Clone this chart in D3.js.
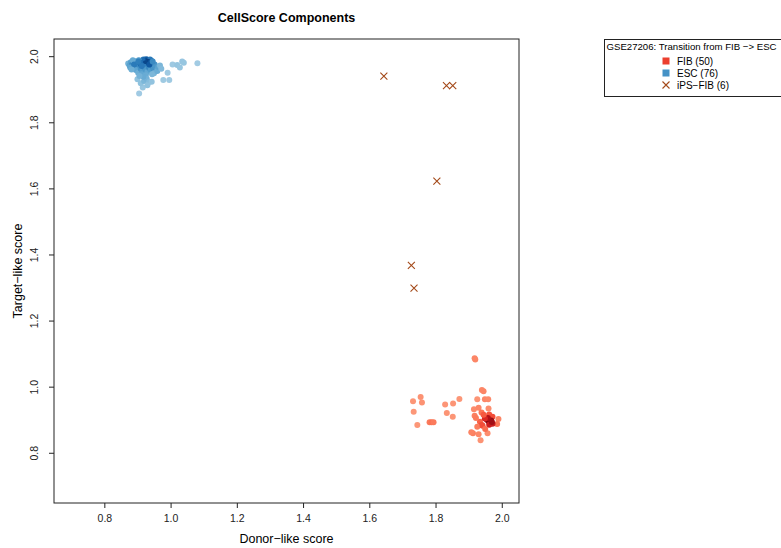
<!DOCTYPE html>
<html>
<head>
<meta charset="utf-8">
<script src="https://cdn.jsdelivr.net/npm/d3@7"></script>
<style>
  body { margin: 0; background: #fff; }
  svg text { font-family: "Liberation Sans", Arial, Helvetica, sans-serif; }
</style>
</head>
<body>
<div class="chart"></div>
<script>
//----Data----
const escX = [0.918,0.922,0.926,0.930,0.934,0.938,0.942,0.928,0.935,0.920,0.915,0.932,0.940,0.925,
  0.872,0.876,0.880,0.884,0.888,0.892,0.896,0.900,0.904,0.908,0.886,0.898,0.910,0.878,
  0.895,0.902,0.910,0.915,0.920,0.925,0.930,0.935,0.940,0.945,0.948,0.952,0.956,0.960,0.950,0.944,0.912,0.925,
  0.900,0.905,0.916,0.910,0.920,0.928,0.935,0.943,0.918,0.930,0.906,
  0.960,0.963,0.978,0.996,0.991,1.006,1.020,1.028,1.035,1.040,1.081,0.968,0.972,
  0.890,0.903,0.913,0.936,0.946,0.882]
const escY = [1.990,1.988,1.991,1.989,1.987,1.990,1.986,1.984,1.982,1.983,1.986,1.978,1.980,1.979,
  1.978,1.972,1.982,1.975,1.968,1.985,1.978,1.972,1.988,1.980,1.988,1.965,1.975,1.966,
  1.958,1.950,1.962,1.955,1.968,1.960,1.952,1.965,1.958,1.970,1.962,1.975,1.968,1.960,1.948,1.945,1.945,1.942,
  1.930,1.887,1.905,1.918,1.925,1.932,1.922,1.923,1.938,1.912,1.940,
  1.955,1.967,1.928,1.928,1.950,1.975,1.973,1.966,1.984,1.980,1.979,1.972,1.962,
  1.975,1.983,1.970,1.975,1.984,1.960]

const fibX = [1.918,1.920,1.940,1.945,1.949,1.959,1.926,
  1.732,1.755,1.759,1.734,1.745,1.782,1.788,1.794,
  1.829,1.853,1.872,1.834,1.852,1.916,1.930,1.960,1.918,1.939,1.962,1.972,1.990,1.986,
  1.955,1.960,1.965,1.968,1.972,1.962,1.958,1.970,
  1.934,1.940,1.949,1.926,1.942,1.913,1.930,1.957,1.936,
  1.908,1.922,1.945,1.950]
const fibY = [1.086,1.082,0.990,0.986,0.962,0.962,0.962,
  0.956,0.969,0.952,0.924,0.884,0.892,0.892,0.892,
  0.946,0.949,0.963,0.920,0.909,0.932,0.936,0.934,0.912,0.922,0.916,0.909,0.902,0.887,
  0.900,0.895,0.890,0.898,0.888,0.885,0.905,0.893,
  0.894,0.884,0.904,0.879,0.882,0.859,0.856,0.859,0.838,
  0.862,0.905,0.915,0.872]

const ipsX = [1.644,1.833,1.852,1.804,1.727,1.735]
const ipsY = [1.940,1.911,1.911,1.622,1.367,1.298]

const xTicks = [0.8, 1.0, 1.2, 1.4, 1.6, 1.8, 2.0]
const yTicks = [0.8, 1.0, 1.2, 1.4, 1.6, 1.8, 2.0]

const legendTitle = "GSE27206: Transition from FIB \u2212> ESC"
const legendLabels = ["FIB (50)", "ESC (76)", "iPS\u2212FIB (6)"]

//----Chart Initialization----
const margin = ({top: 39, left: 54})
const width = 465, height = 464

const svg = d3.select(".chart").append("svg")
  .attr("width", 781)
  .attr("height", 548)

const g = svg.append("g")
  .attr("transform", "translate(" + margin.left + "," + margin.top + ")")

// R style: data range extended by 4% on each side
const lo = 0.7, hi = 2.0, pad = (hi - lo) * 0.04

const xScale = d3.scaleLinear().domain([lo - pad, hi + pad]).range([0, width])
const yScale = d3.scaleLinear().domain([lo - pad, hi + pad]).range([height, 0])

const fmt = d3.format(".1f")

const xAxis = d3.axisBottom(xScale).tickValues(xTicks).tickFormat(fmt).tickSize(5).tickPadding(7)
const yAxis = d3.axisLeft(yScale).tickValues(yTicks).tickFormat(fmt).tickSize(5).tickPadding(7)

g.append("g")
  .attr("class", "axis x-axis")
  .attr("transform", `translate(0, ${height})`)
  .call(xAxis)

const ya = g.append("g")
  .attr("class", "axis y-axis")
  .call(yAxis)

ya.selectAll(".tick text")
  .attr("text-anchor", "middle")
  .attr("x", 0).attr("dy", 0)
  .attr("transform", "translate(-16,0) rotate(-90)")

g.selectAll(".axis .domain").remove()
g.selectAll(".axis text").attr("font-size", 10.5).attr("fill", "#222")
g.selectAll(".axis line").attr("stroke", "#222")

// density colouring, like densCols
function densityColours(xs, ys, interp) {
  const px = xs.map(d => xScale(d)), py = ys.map(d => yScale(d))
  const dens = px.map((x, i) => d3.sum(px, (x2, j) => {
    const d2 = (x - x2) ** 2 + (py[i] - py[j]) ** 2
    return Math.exp(-d2 / (2 * 3.5 * 3.5))
  }))
  const c = d3.scalePow().exponent(1.6).domain(d3.extent(dens)).range([0.36, 0.95])
  return dens.map(d => interp(c(d)))
}

function drawPoints(xs, ys, interp, cls) {
  const cols = densityColours(xs, ys, interp)
  const pts = xs.map((x, i) => ({x: x, y: ys[i], c: cols[i]}))
  g.selectAll("." + cls)
    .data(pts)
    .enter()
    .append("circle")
    .attr("class", cls)
    .attr("cx", d => xScale(d.x))
    .attr("cy", d => yScale(d.y))
    .attr("r", 3)
    .attr("fill", d => d.c)
}

drawPoints(fibX, fibY, d3.interpolateReds, "fib")
drawPoints(escX, escY, d3.interpolateBlues, "esc")

const crossCol = "#a44a1a"
const ips = ipsX.map((x, i) => ({x: x, y: ipsY[i]}))
g.selectAll(".ips")
  .data(ips)
  .enter()
  .append("path")
  .attr("class", "ips")
  .attr("transform", d => `translate(${xScale(d.x)},${yScale(d.y)})`)
  .attr("d", "M-3.5,-3.5L3.5,3.5M-3.5,3.5L3.5,-3.5")
  .attr("stroke", crossCol)
  .attr("stroke-width", 1.1)
  .attr("fill", "none")

g.append("rect")
  .attr("width", width)
  .attr("height", height)
  .attr("fill", "none")
  .attr("stroke", "#222")

// titles
svg.append("text")
  .attr("x", margin.left + width / 2)
  .attr("y", 22)
  .attr("text-anchor", "middle")
  .attr("font-weight", "bold")
  .attr("font-size", 12.5)
  .text("CellScore Components")

svg.append("text")
  .attr("x", margin.left + width / 2)
  .attr("y", 543)
  .attr("text-anchor", "middle")
  .attr("font-size", 12.5)
  .text("Donor\u2212like score")

svg.append("text")
  .attr("transform", `translate(22, ${margin.top + height / 2}) rotate(-90)`)
  .attr("text-anchor", "middle")
  .attr("font-size", 12.5)
  .text("Target\u2212like score")

// legend
const leg = svg.append("g").attr("transform", "translate(604.5, 39.5)")
leg.append("rect")
  .attr("width", 200).attr("height", 57)
  .attr("fill", "#fff").attr("stroke", "#222")
leg.append("text")
  .attr("x", 2).attr("y", 10.5)
  .attr("font-size", 9.6)
  .attr("textLength", 170)
  .attr("lengthAdjust", "spacingAndGlyphs")
  .text(legendTitle)

const legCols = [d3.interpolateReds(0.62), d3.interpolateBlues(0.62), crossCol]
const items = leg.selectAll(".item")
  .data(legendLabels)
  .enter()
  .append("g")
  .attr("class", "item")
  .attr("transform", (d, i) => `translate(61.5, ${21.5 + i * 12})`)

items.filter((d, i) => i < 2)
  .append("rect")
  .attr("x", -3.5).attr("y", -3.5)
  .attr("width", 7).attr("height", 7)
  .attr("fill", (d, i) => legCols[i])

items.filter((d, i) => i == 2)
  .append("path")
  .attr("d", "M-3.5,-3.5L3.5,3.5M-3.5,3.5L3.5,-3.5")
  .attr("stroke", crossCol)
  .attr("stroke-width", 1.1)

items.append("text")
  .attr("x", 11).attr("y", 3.5)
  .attr("font-size", 10)
  .text(d => d)
</script>
</body>
</html>
